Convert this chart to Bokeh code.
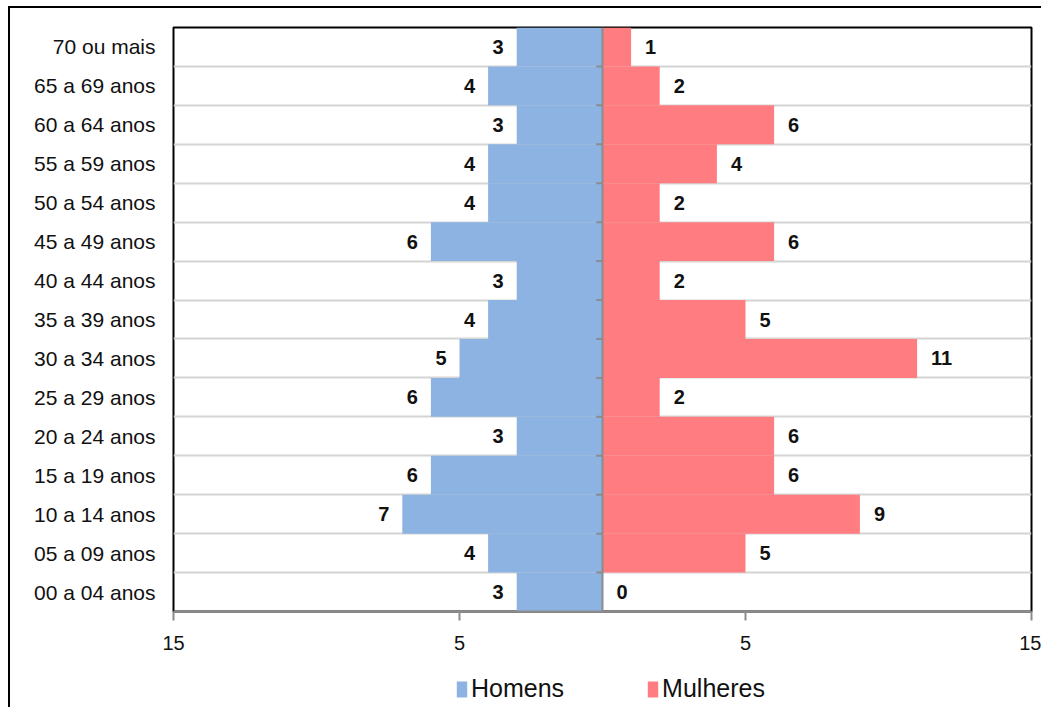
from bokeh.plotting import figure
from bokeh.layouts import column
from bokeh.models import ColumnDataSource, FixedTicker, Legend, LegendItem, Range1d
from bokeh.core.properties import value
from bokeh.embed import file_html
from bokeh.resources import INLINE

ages = ["00 a 04 anos", "05 a 09 anos", "10 a 14 anos", "15 a 19 anos", "20 a 24 anos",
        "25 a 29 anos", "30 a 34 anos", "35 a 39 anos", "40 a 44 anos", "45 a 49 anos",
        "50 a 54 anos", "55 a 59 anos", "60 a 64 anos", "65 a 69 anos", "70 ou mais"]
homens = [3, 4, 7, 6, 3, 6, 5, 4, 3, 6, 4, 4, 3, 4, 3]
mulheres = [0, 5, 9, 6, 6, 2, 11, 5, 2, 6, 2, 4, 6, 2, 1]
series_names = ["Homens", "Mulheres"]
x_ticks = [-15, -5, 5, 15]
x_tick_labels = ["15", "5", "5", "15"]

BLUE = "#8DB3E2"
PINK = "#FF7C80"
FONT = "Liberation Sans"

n = len(ages)
ypos = [i + 0.5 for i in range(n)]
src = ColumnDataSource(dict(
    y=ypos,
    men_left=[-v for v in homens],
    women=mulheres,
    men_lbl=[str(v) for v in homens],
    women_lbl=[str(v) for v in mulheres],
    zero=[0] * n,
))

p = figure(width=1031, height=655, output_backend="svg", toolbar_location=None,
           x_range=Range1d(-15, 15), y_range=Range1d(0, n),
           min_border_left=163, min_border_top=19, min_border_right=10, min_border_bottom=52)
p.outline_line_color = "black"
p.outline_line_width = 2
p.background_fill_color = "white"
p.border_fill_color = "white"

# grids
p.xgrid.visible = False
p.ygrid.ticker = FixedTicker(ticks=list(range(1, n)))
p.ygrid.grid_line_color = "#d4d4d4"
p.ygrid.grid_line_width = 2

r_m = p.hbar(y="y", left="men_left", right="zero", height=1.0, source=src,
             fill_color=BLUE, line_color=None)
r_w = p.hbar(y="y", left="zero", right="women", height=1.0, source=src,
             fill_color=PINK, line_color=None)

# center axis line with ticks
p.segment(x0=[0], y0=[0], x1=[0], y1=[n], line_color="#8c8c8c", line_width=2)
bounds = list(range(1, n))
p.segment(x0=[-0.22] * len(bounds), y0=bounds, x1=[0] * len(bounds), y1=bounds,
          line_color="#8c8c8c", line_width=2)

# value labels
p.text(x="men_left", y="y", text="men_lbl", source=src, x_offset=-13,
       text_align="right", text_baseline="middle", text_font=value(FONT),
       text_font_style="bold", text_font_size="20px", text_color="#111111")
p.text(x="women", y="y", text="women_lbl", source=src, x_offset=14,
       text_align="left", text_baseline="middle", text_font=value(FONT),
       text_font_style="bold", text_font_size="20px", text_color="#111111")

# y axis
p.yaxis.ticker = FixedTicker(ticks=ypos)
p.yaxis.major_label_overrides = {y: a for y, a in zip(ypos, ages)}
p.yaxis.major_tick_out = 0
p.yaxis.major_tick_in = 0
p.yaxis.minor_tick_line_color = None
p.yaxis.axis_line_color = None
p.yaxis.major_label_standoff = 18
p.yaxis.major_label_text_font = FONT
p.yaxis.major_label_text_font_size = "21px"
p.yaxis.major_label_text_color = "#111111"

# x axis
p.xaxis.ticker = FixedTicker(ticks=x_ticks)
p.xaxis.major_label_overrides = {t: l for t, l in zip(x_ticks, x_tick_labels)}
p.xaxis.axis_line_color = "#8c8c8c"
p.xaxis.axis_line_width = 2
p.xaxis.major_tick_line_color = "#8c8c8c"
p.xaxis.major_tick_line_width = 2
p.xaxis.major_tick_out = 9
p.xaxis.major_tick_in = 0
p.xaxis.minor_tick_line_color = None
p.xaxis.major_label_standoff = 15
p.xaxis.major_label_text_font = FONT
p.xaxis.major_label_text_font_size = "20px"
p.xaxis.major_label_text_color = "#111111"

# legend strip: a small figure whose (off-range) bars only feed Bokeh's Legend
q = figure(width=1031, height=44, output_backend="svg", toolbar_location=None,
           x_range=Range1d(100, 101), y_range=Range1d(100, 101),
           min_border=0, min_border_left=0, min_border_right=0,
           min_border_top=0, min_border_bottom=0)
q.axis.visible = False
q.grid.visible = False
q.outline_line_color = None
q.border_fill_color = "white"
q.background_fill_color = "white"
lm = q.hbar(y="y", left="men_left", right="zero", height=1.0, source=src,
            fill_color=BLUE, line_color=None)
lw = q.hbar(y="y", left="zero", right="women", height=1.0, source=src,
            fill_color=PINK, line_color=None)
legend = Legend(items=[LegendItem(label=series_names[0], renderers=[lm]),
                       LegendItem(label=series_names[1], renderers=[lw])],
                orientation="horizontal", location=(282, 4))
legend.glyph_width = 13
legend.glyph_height = 20
legend.label_standoff = 3
legend.spacing = 82
legend.label_text_font = FONT
legend.label_text_font_size = "25px"
legend.label_text_color = "#111111"
legend.border_line_color = None
legend.background_fill_alpha = 0
legend.padding = 0
legend.margin = 0
q.add_layout(legend, "center")

layout = column(p, q, spacing=0)
layout.styles = {"margin-left": "8px", "margin-top": "6px",
                 "border-left": "2px solid black", "border-top": "2px solid black"}

open("out.html", "w").write(file_html(layout, INLINE))
